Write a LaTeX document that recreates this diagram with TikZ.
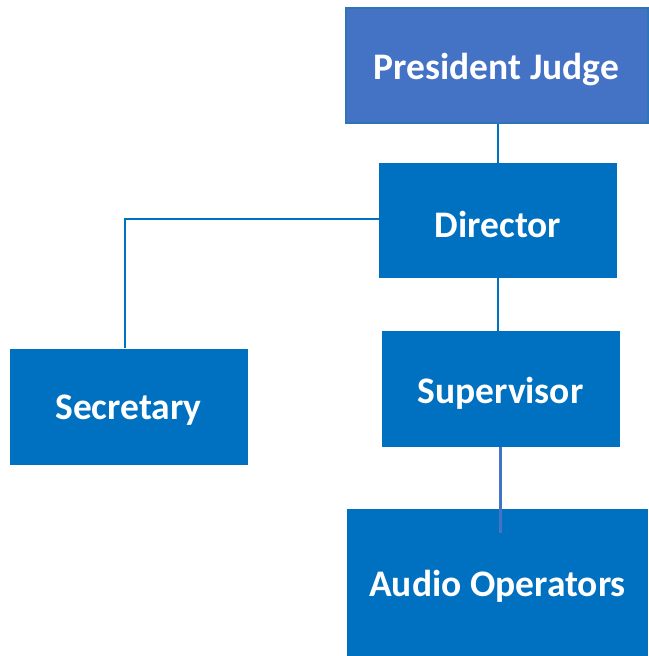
\documentclass[tikz,border=0pt]{standalone}
\usepackage{fontspec}
\setmainfont{Carlito}
\usetikzlibrary{calc}
\definecolor{boxblue}{HTML}{0070C0}
\definecolor{pjblue}{HTML}{4472C4}
\definecolor{pjedge}{HTML}{2E75B6}
\newcommand{\boxtext}[1]{\raisebox{-4pt}[\height][\depth]{#1}}
\tikzset{
  orgbox/.style={fill=boxblue, draw=none, text=white, font=\bfseries\fontsize{37.5}{44}\selectfont, inner sep=0pt, minimum width=#1},
  conn/.style={draw=boxblue, line width=2.2pt},
  lightconn/.style={draw=pjblue, line width=2.2pt}
}
\begin{document}
\begin{tikzpicture}[x=1pt,y=-1pt]
\useasboundingbox (0,0) rectangle (648,656);
\node[orgbox=302pt, fill=pjblue, draw=pjedge, line width=2pt, minimum height=115pt] (pj) at (496.5,65.5) {\boxtext{President Judge}};
\node[orgbox=238pt, minimum height=115pt] (dir) at (498,220.5) {\boxtext{Director}};
\node[orgbox=238pt, minimum height=116pt] (sec) at (128.5,406.5) {\boxtext{Secretary}};
\node[orgbox=238pt, minimum height=116pt] (sup) at (500.5,389) {\boxtext{Supervisor}};
\node[orgbox=301pt, minimum height=147pt] (aud) at (497.5,582.5) {\boxtext{Audio Operators}};
\coordinate (audend) at ($(sup.south |- aud.north)+(0,24)$);
\coordinate (secend) at ($(sec.north)+(-3.5,0)$);
\draw[conn] (pj.south -| dir.north) -- (dir.north);
\draw[conn] ($(dir.west)+(0,-1.5)$) -| (secend);
\draw[conn] (dir.south) -- (dir.south |- sup.north);
\draw[lightconn] (sup.south) -- (audend);
\end{tikzpicture}
\end{document}
